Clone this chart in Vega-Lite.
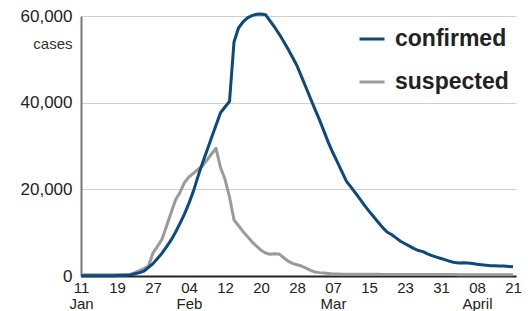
{
  "$schema": "https://vega.github.io/schema/vega-lite/v6.json",
  "width": 435,
  "height": 260,
  "autosize": {"type": "none"},
  "padding": {"left": 81, "top": 16, "right": 12, "bottom": 35},
  "background": "white",
  "config": {"view": {"stroke": null}, "font": "Liberation Sans"},
  "data": {
    "values": [
      {"date": "2020-01-11", "confirmed": 41, "suspected": 300},
      {"date": "2020-01-12", "confirmed": 41, "suspected": 300},
      {"date": "2020-01-13", "confirmed": 41, "suspected": 300},
      {"date": "2020-01-14", "confirmed": 41, "suspected": 300},
      {"date": "2020-01-15", "confirmed": 41, "suspected": 300},
      {"date": "2020-01-16", "confirmed": 45, "suspected": 300},
      {"date": "2020-01-17", "confirmed": 62, "suspected": 300},
      {"date": "2020-01-18", "confirmed": 80, "suspected": 300},
      {"date": "2020-01-19", "confirmed": 110, "suspected": 300},
      {"date": "2020-01-20", "confirmed": 150, "suspected": 310},
      {"date": "2020-01-21", "confirmed": 190, "suspected": 330},
      {"date": "2020-01-22", "confirmed": 260, "suspected": 400},
      {"date": "2020-01-23", "confirmed": 510, "suspected": 760},
      {"date": "2020-01-24", "confirmed": 780, "suspected": 1220},
      {"date": "2020-01-25", "confirmed": 1130, "suspected": 1710},
      {"date": "2020-01-26", "confirmed": 2010, "suspected": 2310},
      {"date": "2020-01-27", "confirmed": 2860, "suspected": 5350},
      {"date": "2020-01-28", "confirmed": 4060, "suspected": 6850},
      {"date": "2020-01-29", "confirmed": 5260, "suspected": 8490},
      {"date": "2020-01-30", "confirmed": 6720, "suspected": 11490},
      {"date": "2020-01-31", "confirmed": 8260, "suspected": 14520},
      {"date": "2020-02-01", "confirmed": 10090, "suspected": 17520},
      {"date": "2020-02-02", "confirmed": 12160, "suspected": 19270},
      {"date": "2020-02-03", "confirmed": 14350, "suspected": 21580},
      {"date": "2020-02-04", "confirmed": 16820, "suspected": 22890},
      {"date": "2020-02-05", "confirmed": 19640, "suspected": 23720},
      {"date": "2020-02-06", "confirmed": 22980, "suspected": 24600},
      {"date": "2020-02-07", "confirmed": 26080, "suspected": 25450},
      {"date": "2020-02-08", "confirmed": 28980, "suspected": 26770},
      {"date": "2020-02-09", "confirmed": 31890, "suspected": 28150},
      {"date": "2020-02-10", "confirmed": 34800, "suspected": 29470},
      {"date": "2020-02-11", "confirmed": 37680, "suspected": 25040},
      {"date": "2020-02-12", "confirmed": 39000, "suspected": 22320},
      {"date": "2020-02-13", "confirmed": 40270, "suspected": 18230},
      {"date": "2020-02-14", "confirmed": 54000, "suspected": 12950},
      {"date": "2020-02-15", "confirmed": 57230, "suspected": 11610},
      {"date": "2020-02-16", "confirmed": 58620, "suspected": 10290},
      {"date": "2020-02-17", "confirmed": 59560, "suspected": 9090},
      {"date": "2020-02-18", "confirmed": 60070, "suspected": 7890},
      {"date": "2020-02-19", "confirmed": 60410, "suspected": 6880},
      {"date": "2020-02-20", "confirmed": 60440, "suspected": 5950},
      {"date": "2020-02-21", "confirmed": 60300, "suspected": 5310},
      {"date": "2020-02-22", "confirmed": 58870, "suspected": 5010},
      {"date": "2020-02-23", "confirmed": 57460, "suspected": 5120},
      {"date": "2020-02-24", "confirmed": 55890, "suspected": 5100},
      {"date": "2020-02-25", "confirmed": 54180, "suspected": 4270},
      {"date": "2020-02-26", "confirmed": 52360, "suspected": 3440},
      {"date": "2020-02-27", "confirmed": 50460, "suspected": 2910},
      {"date": "2020-02-28", "confirmed": 48530, "suspected": 2610},
      {"date": "2020-02-29", "confirmed": 46010, "suspected": 2310},
      {"date": "2020-03-01", "confirmed": 43500, "suspected": 1820},
      {"date": "2020-03-02", "confirmed": 40960, "suspected": 1320},
      {"date": "2020-03-03", "confirmed": 38450, "suspected": 920},
      {"date": "2020-03-04", "confirmed": 36020, "suspected": 780},
      {"date": "2020-03-05", "confirmed": 33370, "suspected": 670},
      {"date": "2020-03-06", "confirmed": 30720, "suspected": 580},
      {"date": "2020-03-07", "confirmed": 28380, "suspected": 460},
      {"date": "2020-03-08", "confirmed": 26210, "suspected": 440},
      {"date": "2020-03-09", "confirmed": 24020, "suspected": 430},
      {"date": "2020-03-10", "confirmed": 21850, "suspected": 420},
      {"date": "2020-03-11", "confirmed": 20520, "suspected": 410},
      {"date": "2020-03-12", "confirmed": 19150, "suspected": 400},
      {"date": "2020-03-13", "confirmed": 17720, "suspected": 400},
      {"date": "2020-03-14", "confirmed": 16290, "suspected": 390},
      {"date": "2020-03-15", "confirmed": 14980, "suspected": 390},
      {"date": "2020-03-16", "confirmed": 13730, "suspected": 380},
      {"date": "2020-03-17", "confirmed": 12480, "suspected": 380},
      {"date": "2020-03-18", "confirmed": 11220, "suspected": 370},
      {"date": "2020-03-19", "confirmed": 10150, "suspected": 370},
      {"date": "2020-03-20", "confirmed": 9580, "suspected": 360},
      {"date": "2020-03-21", "confirmed": 8790, "suspected": 360},
      {"date": "2020-03-22", "confirmed": 8030, "suspected": 360},
      {"date": "2020-03-23", "confirmed": 7450, "suspected": 350},
      {"date": "2020-03-24", "confirmed": 6900, "suspected": 350},
      {"date": "2020-03-25", "confirmed": 6320, "suspected": 350},
      {"date": "2020-03-26", "confirmed": 5880, "suspected": 340},
      {"date": "2020-03-27", "confirmed": 5630, "suspected": 340},
      {"date": "2020-03-28", "confirmed": 5120, "suspected": 340},
      {"date": "2020-03-29", "confirmed": 4690, "suspected": 330},
      {"date": "2020-03-30", "confirmed": 4360, "suspected": 330},
      {"date": "2020-03-31", "confirmed": 4040, "suspected": 330},
      {"date": "2020-04-01", "confirmed": 3720, "suspected": 320},
      {"date": "2020-04-02", "confirmed": 3390, "suspected": 320},
      {"date": "2020-04-03", "confirmed": 3090, "suspected": 320},
      {"date": "2020-04-04", "confirmed": 3000, "suspected": 310},
      {"date": "2020-04-05", "confirmed": 3070, "suspected": 310},
      {"date": "2020-04-06", "confirmed": 3020, "suspected": 310},
      {"date": "2020-04-07", "confirmed": 2860, "suspected": 300},
      {"date": "2020-04-08", "confirmed": 2700, "suspected": 300},
      {"date": "2020-04-09", "confirmed": 2590, "suspected": 300},
      {"date": "2020-04-10", "confirmed": 2490, "suspected": 300},
      {"date": "2020-04-11", "confirmed": 2380, "suspected": 290},
      {"date": "2020-04-12", "confirmed": 2350, "suspected": 290},
      {"date": "2020-04-13", "confirmed": 2330, "suspected": 290},
      {"date": "2020-04-14", "confirmed": 2300, "suspected": 290},
      {"date": "2020-04-15", "confirmed": 2220, "suspected": 280},
      {"date": "2020-04-16", "confirmed": 2150, "suspected": 280}
    ]
  },
  "transform": [{"fold": ["suspected", "confirmed"], "as": ["series", "cases"]}],
  "mark": {"type": "line", "strokeWidth": 3, "strokeJoin": "round", "strokeCap": "butt"},
  "encoding": {
    "x": {
      "field": "date",
      "type": "temporal",
      "scale": {
        "type": "utc",
        "domain": [
          {"year": 2020, "month": 1, "date": 11, "utc": true},
          {"year": 2020, "month": 4, "date": 16, "hours": 16, "utc": true}
        ]
      },
      "axis": {
        "title": null,
        "grid": false,
        "ticks": false,
        "domainColor": "#222222",
        "domainWidth": 2,
        "labelFont": "Liberation Sans, sans-serif",
        "labelFontSize": 15,
        "labelColor": "#222222",
        "labelPadding": 4,
        "labelLineHeight": 16,
        "labelFlush": false,
        "labelOverlap": false,
        "values": [
          {"year": 2020, "month": 1, "date": 11, "utc": true},
          {"year": 2020, "month": 1, "date": 19, "utc": true},
          {"year": 2020, "month": 1, "date": 27, "utc": true},
          {"year": 2020, "month": 2, "date": 4, "utc": true},
          {"year": 2020, "month": 2, "date": 12, "utc": true},
          {"year": 2020, "month": 2, "date": 20, "utc": true},
          {"year": 2020, "month": 2, "date": 28, "utc": true},
          {"year": 2020, "month": 3, "date": 7, "utc": true},
          {"year": 2020, "month": 3, "date": 15, "utc": true},
          {"year": 2020, "month": 3, "date": 23, "utc": true},
          {"year": 2020, "month": 3, "date": 31, "utc": true},
          {"year": 2020, "month": 4, "date": 8, "utc": true},
          {"year": 2020, "month": 4, "date": 16, "utc": true}
        ],
        "labelExpr": "utcmonth(datum.value) == 3 && utcdate(datum.value) == 16 ? '21' : utcdate(datum.value) <= 11 ? [utcFormat(datum.value, '%d'), utcmonth(datum.value) == 3 ? 'April' : utcFormat(datum.value, '%b')] : utcFormat(datum.value, '%d')"
      }
    },
    "y": {
      "field": "cases",
      "type": "quantitative",
      "scale": {"domain": [0, 60000]},
      "axis": {
        "values": [0, 20000, 40000, 60000],
        "format": ",.0f",
        "grid": true,
        "gridColor": "#d0d0d0",
        "gridWidth": 1,
        "ticks": false,
        "domainColor": "#777777",
        "domainWidth": 2,
        "labelFont": "Liberation Sans, sans-serif",
        "labelFontSize": 17,
        "labelColor": "#222222",
        "labelPadding": 9,
        "title": "cases",
        "titleAngle": 0,
        "titleAlign": "right",
        "titleBaseline": "middle",
        "titleX": -9,
        "titleY": 27,
        "titleFont": "Liberation Sans, sans-serif",
        "titleFontWeight": "normal",
        "titleFontSize": 15,
        "titleColor": "#333333"
      }
    },
    "color": {
      "field": "series",
      "type": "nominal",
      "scale": {"domain": ["confirmed", "suspected"], "range": ["#0b4a7e", "#9a9a9a"]},
      "legend": {
        "orient": "none",
        "legendX": 277,
        "legendY": 9,
        "title": null,
        "padding": 0,
        "symbolType": "stroke",
        "symbolSize": 625,
        "symbolStrokeWidth": 3,
        "labelFont": "Liberation Sans, sans-serif",
        "labelFontWeight": "bold",
        "labelFontSize": 23,
        "labelColor": "#222222",
        "labelOffset": 9,
        "rowPadding": 17
      }
    }
  }
}
